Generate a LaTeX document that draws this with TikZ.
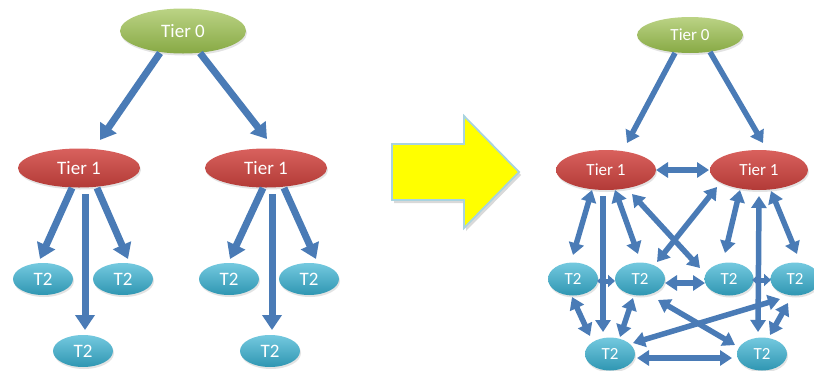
\documentclass[tikz,border=0pt]{standalone}
\usepackage{fontspec}
\setmainfont{Carlito}
\usetikzlibrary{arrows.meta,shapes.geometric,shadows}
\definecolor{arrblue}{HTML}{4A7BB6}
\definecolor{grtop}{HTML}{BBD385}
\definecolor{grbot}{HTML}{87A944}
\definecolor{rdtop}{HTML}{D9615D}
\definecolor{rdbot}{HTML}{B23A37}
\definecolor{cytop}{HTML}{74C9DF}
\definecolor{cybot}{HTML}{2F96B2}
\definecolor{yellowfill}{HTML}{FFFF00}
\definecolor{yellowedge}{HTML}{A9D3DF}
\begin{document}
\begin{tikzpicture}[x=1pt,y=-1pt,
  ell/.style={ellipse, inner sep=0pt, text=white,
    drop shadow={opacity=0.22, shadow xshift=1pt, shadow yshift=-2pt}},
  tzero/.style={ell, top color=grtop, bottom color=grbot},
  tone/.style={ell, top color=rdtop, bottom color=rdbot},
  ttwo/.style={ell, top color=cytop, bottom color=cybot},
  bigfont/.style={font=\fontsize{19}{22}\selectfont},
  smfont/.style={font=\fontsize{17}{20}\selectfont},
  bigarr/.style={draw=arrblue, line width=7pt, -{Triangle[length=15pt,width=19pt]}},
  smarr/.style={draw=arrblue, line width=5.5pt, -{Triangle[length=12pt,width=15pt]}},
  smdbl/.style={draw=arrblue, line width=5.5pt, {Triangle[length=12pt,width=15pt]}-{Triangle[length=12pt,width=15pt]}},
  tinydbl/.style={draw=arrblue, line width=5pt, {Triangle[length=7pt,width=12pt]}-{Triangle[length=7pt,width=12pt]}},
  yarrow/.style={fill=yellowfill, draw=yellowedge, line width=1.8pt, line join=miter,
    drop shadow={opacity=0.3, shadow xshift=2pt, shadow yshift=-3pt}}
]
\useasboundingbox (0,0) rectangle (814,370);

% ---------- left panel ----------
\node[tzero, bigfont, minimum width=126pt, minimum height=45pt] (L0) at (183,31) {Tier 0};
\node[tone, bigfont, minimum width=122pt, minimum height=39pt] (L1a) at (79,168) {Tier 1};
\node[tone, bigfont, minimum width=122pt, minimum height=39pt] (L1b) at (266,168) {Tier 1};
\node[ttwo, bigfont, minimum width=60pt, minimum height=32pt] (L2a) at (43,279) {T2};
\node[ttwo, bigfont, minimum width=60pt, minimum height=32pt] (L2b) at (123,279) {T2};
\node[ttwo, bigfont, minimum width=60pt, minimum height=32pt] (L2c) at (83,351) {T2};
\node[ttwo, bigfont, minimum width=60pt, minimum height=32pt] (L2d) at (229,279) {T2};
\node[ttwo, bigfont, minimum width=60pt, minimum height=32pt] (L2e) at (309,279) {T2};
\node[ttwo, bigfont, minimum width=60pt, minimum height=32pt] (L2f) at (270,351) {T2};

\draw[bigarr] ([shift={(-23,22)}]L0.center) -- ([shift={(21,-28)}]L1a.center);
\draw[bigarr] ([shift={(17,22)}]L0.center) -- ([shift={(1,-29)}]L1b.center);
\draw[bigarr] ([shift={(-7,20)}]L1a.center) -- ([shift={(-3,-20)}]L2a.center);
\draw[bigarr] ([shift={(6,26)}]L1a.center) -- ([shift={(2,-21)}]L2c.center);
\draw[bigarr] ([shift={(18,20)}]L1a.center) -- ([shift={(5,-20)}]L2b.center);
\draw[bigarr] ([shift={(-3,20)}]L1b.center) -- ([shift={(1,-20)}]L2d.center);
\draw[bigarr] ([shift={(6,26)}]L1b.center) -- ([shift={(2,-21)}]L2f.center);
\draw[bigarr] ([shift={(18,20)}]L1b.center) -- ([shift={(7,-20)}]L2e.center);

% ---------- yellow arrow ----------
\draw[yarrow] (392,144) -- (464,144) -- (464,116) -- (519,172) -- (464,228) -- (464,200) -- (392,200) -- cycle;

% ---------- right panel ----------
\node[tzero, smfont, minimum width=106pt, minimum height=36pt] (R0) at (690,35) {Tier 0};
\node[tone, smfont, minimum width=100pt, minimum height=40pt] (R1a) at (606,170) {Tier 1};
\node[tone, smfont, minimum width=98pt, minimum height=40pt] (R1b) at (759,170) {Tier 1};
\node[ttwo, smfont, minimum width=50pt, minimum height=33pt] (R2a) at (573,279) {T2};
\node[ttwo, smfont, minimum width=50pt, minimum height=33pt] (R2b) at (640,279) {T2};
\node[ttwo, smfont, minimum width=49pt, minimum height=33pt] (R2c) at (729,279) {T2};
\node[ttwo, smfont, minimum width=49pt, minimum height=33pt] (R2d) at (795,279) {T2};
\node[ttwo, smfont, minimum width=50pt, minimum height=33pt] (R3a) at (610,354) {T2};
\node[ttwo, smfont, minimum width=50pt, minimum height=33pt] (R3b) at (762,354) {T2};

\draw[smarr] ([shift={(-15,18)}]R0.center) -- ([shift={(21,-27)}]R1a.center);
\draw[smarr] ([shift={(20,17)}]R0.center) -- ([shift={(4,-27)}]R1b.center);
\draw[smdbl] ([shift={(50,0)}]R1a.center) -- ([shift={(-50,0)}]R1b.center);
\draw[smdbl] ([shift={(-14,20)}]R1a.center) -- ([shift={(0,-24)}]R2a.center);
\draw[smarr] ([shift={(-3,26)}]R1a.center) -- ([shift={(-7,-22)}]R3a.center);
\draw[smdbl] ([shift={(9,20)}]R1a.center) -- ([shift={(-2,-25)}]R2b.center);
\draw[smdbl] ([shift={(26,24)}]R1a.center) -- ([shift={(-29,-11)}]R2c.center);
\draw[smdbl] ([shift={(-42,17)}]R1b.center) -- ([shift={(17,-17)}]R2b.center);
\draw[smdbl] ([shift={(-19,20)}]R1b.center) -- ([shift={(-4,-26)}]R2c.center);
\draw[smdbl] ([shift={(0,26)}]R1b.center) -- ([shift={(-4,-22)}]R3b.center);
\draw[smdbl] ([shift={(12,21)}]R1b.center) -- ([shift={(2,-25)}]R2d.center);
\draw[tinydbl] ([shift={(24,2)}]R2a.center) -- ([shift={(-25,2)}]R2b.center);
\draw[smdbl] ([shift={(25,4)}]R2b.center) -- ([shift={(-24,4)}]R2c.center);
\draw[tinydbl] ([shift={(23,1)}]R2c.center) -- ([shift={(-24,1)}]R2d.center);
\draw[smdbl] ([shift={(-1,18)}]R2a.center) -- ([shift={(-20,-18)}]R3a.center);
\draw[smdbl] ([shift={(-7,19)}]R2b.center) -- ([shift={(10,-17)}]R3a.center);
\draw[smdbl] ([shift={(18,21)}]R2b.center) -- ([shift={(-27,-9)}]R3b.center);
\draw[smdbl] ([shift={(23,-11)}]R3a.center) -- ([shift={(-15,20)}]R2d.center);
\draw[smdbl] ([shift={(27,4)}]R3a.center) -- ([shift={(-30,4)}]R3b.center);
\draw[smdbl] ([shift={(-7,24)}]R2d.center) -- ([shift={(8,-19)}]R3b.center);
\end{tikzpicture}
\end{document}
